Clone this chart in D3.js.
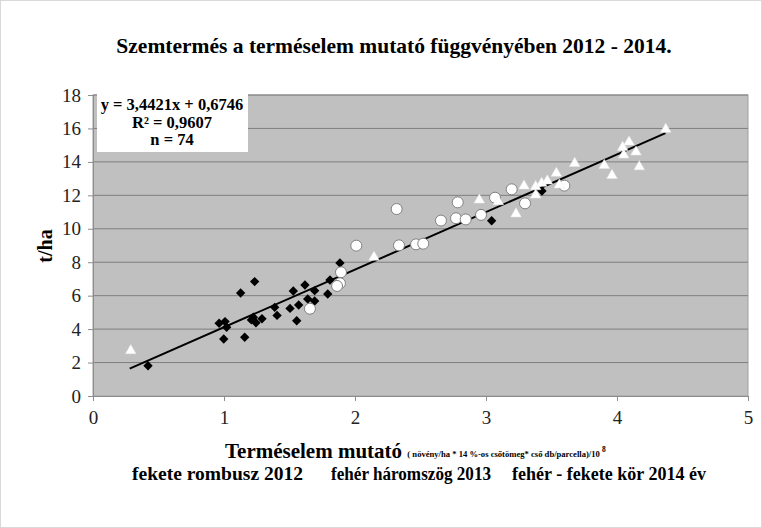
<!DOCTYPE html>
<html>
<head>
<meta charset="utf-8">
<script src="https://cdn.jsdelivr.net/npm/d3@7"></script>
<style>
  body { margin: 0; background: #fff; }
  svg text { font-family: "Liberation Serif", "Times New Roman", serif; }
</style>
</head>
<body>
<svg id="chart" width="762" height="528"></svg>
<script>
// 2012 - fekete rombusz
const x2012 = [0.42, 0.963, 1.008, 1.02, 0.998, 1.127, 1.234, 1.158, 1.209, 1.224, 1.244, 1.29,
  1.387, 1.405, 1.504, 1.529, 1.555, 1.570, 1.618, 1.639, 1.692, 1.692, 1.792, 1.809, 1.885, 3.043, 3.427];
const y2012 = [1.81, 4.35, 4.45, 4.11, 3.41, 6.16, 6.84, 3.51, 4.55, 4.71, 4.38, 4.62,
  5.30, 4.82, 5.24, 6.28, 4.50, 5.44, 6.64, 5.80, 6.30, 5.68, 6.10, 6.94, 7.95, 10.48, 12.26];
// 2013 - fehér háromszög
const x2013 = [0.288, 2.145, 2.949, 3.094, 3.229, 3.29, 3.379, 3.379, 3.425, 3.468, 3.537, 3.56,
  3.677, 3.903, 3.962, 4.043, 4.092, 4.051, 4.145, 4.17, 4.372];
const y2013 = [2.71, 8.30, 11.72, 11.62, 10.89, 12.56, 12.52, 12.02, 12.72, 12.86, 13.32, 12.62,
  13.91, 13.79, 13.19, 14.87, 15.19, 14.41, 14.59, 13.71, 15.95];
// 2014 - fehér/fekete kör
const x2014 = [2.318, 2.784, 2.656, 2.771, 2.010, 2.336, 2.466, 2.521, 1.893, 1.885, 1.863, 1.656,
  2.845, 2.962, 3.069, 3.196, 3.298, 3.598];
const y2014 = [11.18, 11.58, 10.49, 10.63, 8.99, 9.01, 9.07, 9.11, 7.40, 6.74, 6.58, 5.22,
  10.56, 10.83, 11.86, 12.36, 11.52, 12.58];

const slope = 3.4421, intercept = 0.6746;
const trendX = [0.28, 4.37];
const xTicks = [0, 1, 2, 3, 4, 5];
const yTicks = [0, 2, 4, 6, 8, 10, 12, 14, 16, 18];
const eqLines = ["y = 3,4421x + 0,6746", "R² = 0,9607", "n = 74"];
const legendLabels = ["fekete rombusz 2012", "fehér háromszög  2013", "fehér - fekete kör 2014 év"];

const svg = d3.select("#chart");
const W = 762, H = 528;
const m = { left: 93, right: 748, top: 95, bottom: 396 };

svg.append("rect").attr("x", 0.5).attr("y", 0.5).attr("width", W - 1).attr("height", H - 1)
  .attr("fill", "#fff").attr("stroke", "#d9d9d9");

const x = d3.scaleLinear().domain([0, 5]).range([m.left, m.right]);
const y = d3.scaleLinear().domain([0, 18]).range([m.bottom, m.top]);

// plot area
svg.append("rect").attr("x", m.left).attr("y", m.top)
  .attr("width", m.right - m.left).attr("height", m.bottom - m.top)
  .attr("fill", "#c0c0c0").attr("stroke", "#a0a0a0");

// gridlines
svg.append("g").selectAll("line").data(yTicks.filter(d => d > 0)).join("line")
  .attr("x1", m.left).attr("x2", m.right)
  .attr("y1", d => y(d)).attr("y2", d => y(d))
  .attr("stroke", "#7f7f7f").attr("stroke-width", 1);

// axes
const yAxis = svg.append("g").attr("transform", `translate(${m.left},0)`)
  .call(d3.axisLeft(y).tickValues(yTicks).tickFormat(d3.format("d")).tickSize(5).tickPadding(7));
const xAxis = svg.append("g").attr("transform", `translate(0,${m.bottom})`)
  .call(d3.axisBottom(x).tickValues(xTicks).tickFormat(d3.format("d")).tickSize(5).tickPadding(10));
[xAxis, yAxis].forEach(a => {
  a.attr("font-family", null).attr("font-size", 19);
  a.select(".domain").attr("stroke", "#8c8c8c");
  a.selectAll(".tick line").attr("stroke", "#8c8c8c");
  a.selectAll("text").attr("fill", "#222")
    .style("font-family", "'Liberation Serif', 'Times New Roman', serif");
});

// trend line
svg.append("line")
  .attr("x1", x(trendX[0])).attr("y1", y(slope * trendX[0] + intercept))
  .attr("x2", x(trendX[1])).attr("y2", y(slope * trendX[1] + intercept))
  .attr("stroke", "#000").attr("stroke-width", 2);

// 2012 diamonds
svg.append("g").selectAll("path").data(d3.zip(x2012, y2012)).join("path")
  .attr("d", d3.symbol(d3.symbolDiamond2, 56))
  .attr("transform", d => `translate(${x(d[0])},${y(d[1])})`)
  .attr("fill", "#000");

// 2014 circles
svg.append("g").selectAll("circle").data(d3.zip(x2014, y2014)).join("circle")
  .attr("cx", d => x(d[0])).attr("cy", d => y(d[1])).attr("r", 5.5)
  .attr("fill", "#fff").attr("stroke", "#808080").attr("stroke-width", 1);

// 2013 triangles
svg.append("g").selectAll("path").data(d3.zip(x2013, y2013)).join("path")
  .attr("d", d3.symbol(d3.symbolTriangle, 48))
  .attr("transform", d => `translate(${x(d[0])},${y(d[1])})`)
  .attr("fill", "#fff").attr("stroke", "#e8e8e8").attr("stroke-width", 0.5);

// equation box
svg.append("rect").attr("x", 97).attr("y", 93).attr("width", 151).attr("height", 59).attr("fill", "#fff");
svg.append("g").selectAll("text").data(eqLines).join("text")
  .attr("x", 172).attr("y", (d, i) => 110 + i * 17.5)
  .attr("text-anchor", "middle").attr("font-weight", "bold").attr("font-size", 16.5)
  .text(d => d);

// title
svg.append("text").attr("x", 394).attr("y", 53).attr("text-anchor", "middle")
  .attr("font-weight", "bold").attr("font-size", 21.5)
  .text("Szemtermés a terméselem mutató függvényében 2012 - 2014.");

// y label
svg.append("text").attr("transform", "translate(52,246) rotate(-90)")
  .attr("text-anchor", "middle").attr("font-weight", "bold").attr("font-size", 20)
  .text("t/ha");

// x label
const xl = svg.append("text").attr("x", 225).attr("y", 458).attr("font-weight", "bold");
xl.append("tspan").attr("font-size", 21).text("Terméselem mutató ");
xl.append("tspan").attr("font-size", 8.6).attr("dy", -1).text("( növény/ha  * 14 %-os csőtömeg* cső db/parcella)/10 ");
xl.append("tspan").attr("font-size", 7.5).attr("dy", -5).text(" 8");

// legend line (start x and span in px)
const legendPos = [[132, 171], [331, 160], [512, 194]];
svg.append("g").selectAll("text").data(legendLabels).join("text")
  .attr("x", (d, i) => legendPos[i][0]).attr("y", 480)
  .attr("textLength", (d, i) => legendPos[i][1]).attr("lengthAdjust", "spacingAndGlyphs")
  .attr("font-weight", "bold").attr("font-size", 18.5)
  .text(d => d);
</script>
</body>
</html>
